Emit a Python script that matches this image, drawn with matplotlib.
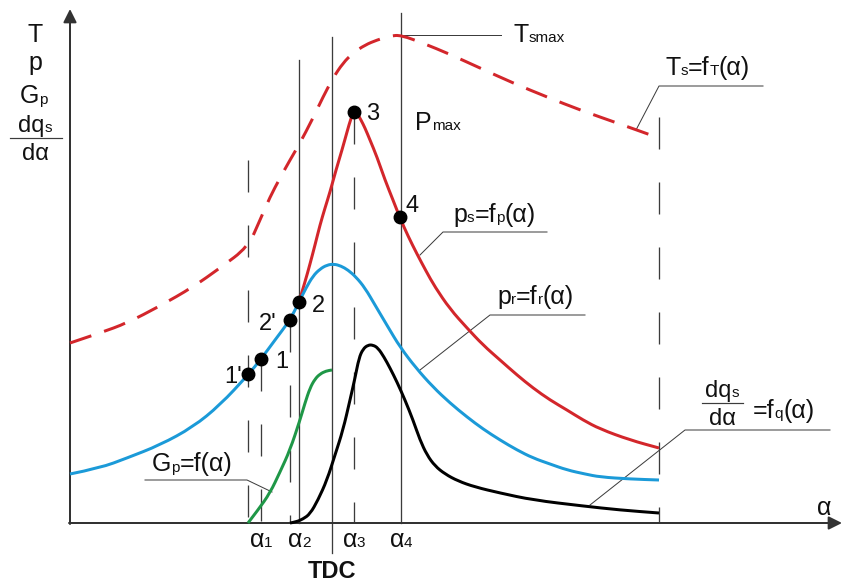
import matplotlib
matplotlib.use("Agg")
import matplotlib.pyplot as plt
from matplotlib.transforms import IdentityTransform
from matplotlib.path import Path
from matplotlib.patches import PathPatch

plt.rcParams['font.family'] = ['Liberation Sans', 'DejaVu Sans']

# ---------------- data (schematic units: alpha to the right, value upward) -------------
# gas temperature  Ts = fT(alpha)   (dashed red)
ts_x = [0, 30, 57, 90, 123, 150, 178, 190, 200, 210, 220, 230, 242, 253, 263, 273, 283, 295,
        307, 320, 331, 355, 377, 410, 443, 477, 510, 550, 589]
ts_y = [180, 190, 200, 217, 236, 255, 276, 303, 326, 345, 363, 380, 403, 426, 445, 460, 470, 478,
        483, 487, 488, 479, 470, 455, 440, 426, 413, 399, 385]

# pressure with combustion  ps = fp(alpha)  (red)
ps_x = [229, 235, 240, 245, 250, 255, 260, 266, 272, 277, 281, 284, 287, 291, 295, 300, 307, 315,
        323, 330, 338, 347, 356, 365, 380, 397, 413, 430, 447, 463, 480, 497, 513, 530, 560, 589]
ps_y = [221, 241, 259, 278, 298, 315, 331, 353, 373, 391, 405, 411, 410, 403, 395, 383, 366, 343,
        323, 305, 287, 269, 252, 236, 214, 195, 178, 163, 148, 135, 123, 113, 103, 94, 83, 75]

# motoring pressure  pr = fr(alpha)  (blue)
pr_x = [0, 30, 57, 90, 123, 150, 178, 191, 205, 220, 229, 236, 243, 250, 257, 264, 271, 278, 286,
        295, 305, 318, 330, 346, 363, 380, 397, 413, 430, 447, 463, 480, 497, 515, 530, 560, 589]
pr_y = [49, 55, 65, 78, 96, 118, 148, 164, 183, 203, 221, 235, 247, 254, 258, 259, 257, 253, 246,
        235, 218, 196, 176, 155, 136, 120, 106, 94, 83, 73, 65, 59, 53, 49, 46, 44, 43]

# heat release rate  dqs/dalpha = fq(alpha)  (black)
dq_x = [220, 226, 233, 240, 248, 257, 265, 273, 280, 285, 289, 293, 298, 303, 308, 314, 320, 327,
        335, 343, 350, 357, 365, 375, 388, 405, 430, 463, 513, 550, 589]
dq_y = [0, 1, 4, 9, 23, 43, 68, 93, 123, 145, 165, 174, 178, 178, 175, 166, 155, 141,
        123, 103, 83, 68, 57, 49, 42, 36, 30, 23, 17, 13, 10]

# fuel injection  Gp = f(alpha)  (green)
gp_x = [178, 188, 200, 210, 220, 230, 235, 240, 245, 250, 256, 262]
gp_y = [0, 13, 30, 51, 73, 103, 120, 135, 144, 149, 152, 153]

# characteristic points
pt_names = ["1'", "1", "2'", "2", "3", "4"]
pt_x = [178, 191, 220, 229, 284, 330]
pt_y = [149, 164, 203, 221, 411, 306]

# characteristic angles
a1p, a1, a2p, a2, tdc, a3, a4, a_end = 178, 191, 220, 229, 262, 284, 331, 589

RED = '#d3262b'
BLUE = '#1b9ad8'
GREEN = '#1f9747'
GUIDE = '#3c3c3c'
PX = 0.72  # points per pixel

fig = plt.figure(figsize=(8.44, 5.83), dpi=100)
ax = fig.add_axes([0, 0, 1, 1])
ax.set_xlim(-70, 774)
ax.set_ylim(-60, 523)
ax.axis('off')


def smooth(xs, ys, **kw):
    """Draw the read points as a smooth quadratic-Bezier path."""
    pts = list(zip(xs, ys))
    verts = [pts[0]]
    codes = [Path.MOVETO]
    for i in range(1, len(pts) - 1):
        m = ((pts[i][0] + pts[i + 1][0]) / 2, (pts[i][1] + pts[i + 1][1]) / 2)
        verts += [pts[i], m]
        codes += [Path.CURVE3, Path.CURVE3]
    verts.append(pts[-1])
    codes.append(Path.LINETO)
    ax.add_patch(PathPatch(Path(verts, codes), fill=False, joinstyle='round', **kw))


# ---------------- guide lines ----------------
glw = 1.3 * PX
dash_g = (32 / 1.3, 33 / 1.3)
ax.plot([a1p, a1p], [363, 0], color=GUIDE, lw=glw, dashes=dash_g, zorder=1)
ax.plot([a1, a1], [164, 0], color=GUIDE, lw=glw, dashes=dash_g, zorder=1)
ax.plot([a2p, a2p], [203, 0], color=GUIDE, lw=glw, dashes=dash_g, zorder=1)
ax.plot([a3, a3], [411, 0], color=GUIDE, lw=glw, dashes=dash_g, zorder=1)
ax.plot([a_end, a_end], [406, 0], color=GUIDE, lw=glw, dashes=dash_g, zorder=1)
ax.plot([a2, a2], [463, 0], color=GUIDE, lw=glw, zorder=1)
ax.plot([tdc, tdc], [486, -30], color=GUIDE, lw=glw, zorder=1)
ax.plot([a4, a4], [510, 0], color=GUIDE, lw=glw, zorder=1)

# ---------------- axes with arrows ----------------
arr = dict(arrowstyle='-|>', color='#333333', lw=2 * PX, mutation_scale=20,
           shrinkA=0, shrinkB=0)
ax.annotate('', xy=(0, 514), xytext=(0, -1), arrowprops=arr, zorder=2)
ax.annotate('', xy=(772, 0), xytext=(-1, 0), arrowprops=arr, zorder=2)

# ---------------- curves ----------------
clw = 3 * PX
smooth(ts_x, ts_y, edgecolor=RED, lw=clw, linestyle=(0, (7.5, 4.5)), zorder=3)
smooth(ps_x, ps_y, edgecolor=RED, lw=clw, zorder=3)
smooth(pr_x, pr_y, edgecolor=BLUE, lw=clw, zorder=3)
smooth(dq_x, dq_y, edgecolor='black', lw=clw, zorder=3)
smooth(gp_x, gp_y, edgecolor=GREEN, lw=clw, zorder=3)
ax.plot(pt_x, pt_y, 'o', color='black', ms=9, zorder=5)

# ---------------- leader lines ----------------
llw = 1.0 * PX
ax.plot([331, 431], [488, 488], color=GUIDE, lw=llw)
ax.plot([566, 589, 693], [393, 437, 437], color=GUIDE, lw=llw)
ax.plot([350, 373, 477], [268, 291, 291], color=GUIDE, lw=llw)
ax.plot([350, 420, 515], [153, 208, 208], color=GUIDE, lw=llw)
ax.plot([520, 615, 760], [18, 93, 93], color=GUIDE, lw=llw)
ax.plot([75, 177, 202], [43, 43, 31], color=GUIDE, lw=llw)
ax.plot([-60, -8], [385, 385], color=GUIDE, lw=1.2 * PX)
ax.plot([632, 673], [120, 120], color=GUIDE, lw=1.2 * PX)

# ---------------- text ----------------
renderer = fig.canvas.get_renderer()
ident = IdentityTransform()


def rich(x, y, parts, ha='left', weight='normal'):
    X, Y = ax.transData.transform((x, y))
    arts = []
    cur = X
    for s, size, dy in parts:
        t = ax.text(cur, Y + dy, s, fontsize=size, transform=ident, va='baseline',
                    ha='left', fontweight=weight, color='#111111')
        w = t.get_window_extent(renderer).width
        arts.append(t)
        cur += w
    total = cur - X
    shift = {'left': 0, 'center': total / 2, 'right': total}[ha]
    for t in arts:
        px, py = t.get_position()
        t.set_position((px - shift, py))


F = 18
S = 11
D = 17
# y-axis label stack
rich(-35, 481, [("T", F, 0)], ha='center')
rich(-35, 453, [("p", F, 0)], ha='center')
rich(-36, 420, [("G", F, 0), ("p", S, -1)], ha='center')
rich(-35, 391, [("dq", D, 0), ("s", S, 0)], ha='center')
rich(-35, 363, [("dα", D, 0)], ha='center')

# point labels
rich(172, 140, [("1'", D, 0)], ha='right')
rich(205, 155, [("1", D, 0)])
rich(189, 193, [("2'", D, 0)])
rich(242, 211, [("2", D, 0)])
rich(296, 403, [("3", D, 0)])
rich(335, 311, [("4", D, 0)])

# curve labels
rich(345, 393, [("P", F, 0), ("max", S, 0)])
rich(443, 481, [("T", F, 0), ("smax", S, 0)])
rich(595, 448, [("T", F, 0), ("s", S, 0), ("=f", F, 0), ("T", S, 0), ("(α)", F, 0)])
rich(383, 301, [("p", F, 0), ("s", S, 0), ("=f", F, 0), ("p", S, 0), ("(α)", F, 0)])
rich(427, 219, [("p", F, 0), ("r", S, 0), ("=f", F, 0), ("r", S, 0), ("(α)", F, 0)])
rich(652, 126, [("dq", D, 0), ("s", S, 0)], ha='center')
rich(652, 98, [("dα", D, 0)], ha='center')
rich(683, 105, [("=f", F, 0), ("q", S, 0), ("(α)", F, 0)])
rich(82, 52, [("G", F, 0), ("p", S, -1), ("=f(α)", F, 0)])

# axis labels
rich(747, 8, [("α", F, 0)])
rich(a1, -24, [("α", F, 0), ("1", S, 0)], ha='center')
rich(a2, -24, [("α", F, 0), ("2", S, 0)], ha='center')
rich(a3, -24, [("α", F, 0), ("3", S, 0)], ha='center')
rich(a4, -24, [("α", F, 0), ("4", S, 0)], ha='center')
rich(tdc, -55, [("TDC", 17, 0)], ha='center', weight='bold')

fig.savefig('out.png', dpi=100)
